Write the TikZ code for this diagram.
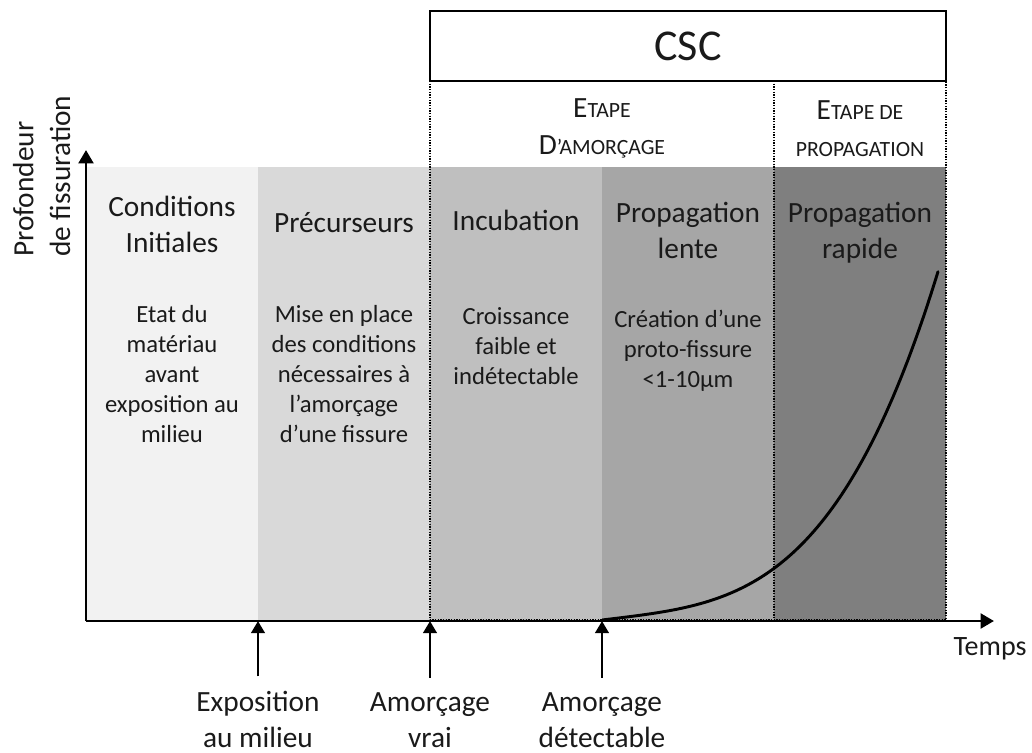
\documentclass[tikz,border=0pt]{standalone}
\usepackage{fontspec}
\setmainfont{Carlito}
\usetikzlibrary{arrows.meta}
\definecolor{bandA}{HTML}{F2F2F2}
\definecolor{bandB}{HTML}{D9D9D9}
\definecolor{bandC}{HTML}{BFBFBF}
\definecolor{bandD}{HTML}{A6A6A6}
\definecolor{bandE}{HTML}{7F7F7F}
\definecolor{ink}{HTML}{1A1A1A}
\newcommand{\scsm}[1]{{\fontsize{16.3pt}{20pt}\selectfont #1}}
\begin{document}
\begin{tikzpicture}[x=0.75pt,y=-0.75pt,
  head/.style={font=\fontsize{22pt}{27pt}\selectfont, align=center, anchor=base, text=ink},
  desc/.style={font=\fontsize{18.5pt}{22.5pt}\selectfont, align=center, anchor=base, text=ink},
  stage/.style={font=\fontsize{22pt}{27.75pt}\selectfont, align=center, anchor=base, text=ink},
  lab/.style={font=\fontsize{22pt}{26.5pt}\selectfont, align=center, anchor=base, inner sep=0pt, text=ink},
  dotline/.style={line width=1pt, dash pattern=on 1pt off 1pt},
  axis/.style={line width=2.2pt, -{Triangle[length=10pt,width=11pt]}},
  tick/.style={line width=2pt, -{Triangle[length=9pt,width=10pt]}, shorten <=11pt},
  curve/.style={line width=2.2pt, line cap=round, line join=round}
]
\useasboundingbox (0,0) rectangle (1032,753);

% bands
\fill[bandA] (86,167) rectangle (258,621);
\fill[bandB] (258,167) rectangle (430,621);
\fill[bandC] (430,167) rectangle (602,621);
\fill[bandD] (602,167) rectangle (774,621);
\fill[bandE] (774,167) rectangle (946,621);

% CSC box and dotted frame
\node (csc) [draw, line width=1.5pt, minimum width=387pt, minimum height=52.5pt, inner sep=0pt,
  font=\fontsize{33pt}{40pt}\selectfont, text=ink] at (688,46) {CSC};
\draw[dotline] (430,81) rectangle (946,620);
\draw[dotline] (774,81) -- (774,620);

% stage labels (anchor = baseline of last line)
\node[stage] (amorc) at (602,154) {E\scsm{TAPE}\\D\scsm{’AMORÇAGE}};
\node[stage] (propa) at (860,156) {E\scsm{TAPE DE}\\\scsm{PROPAGATION}};

% headings
\node[head] (h1) at (172,252) {Conditions\\Initiales};
\node[head] (h2) at (344,232) {Précurseurs};
\node[head] (h3) at (516,230) {Incubation};
\node[head] (h4) at (688,258) {Propagation\\lente};
\node[head] (h5) at (860,258) {Propagation\\rapide};

% descriptions
\node[desc] (d1) at (172,442) {Etat du\\matériau\\avant\\exposition au\\milieu};
\node[desc] (d2) at (344,442) {Mise en place\\des conditions\\nécessaires à\\l’amorçage\\d’une fissure};
\node[desc] (d3) at (516,384) {Croissance\\faible et\\indétectable};
\node[desc] (d4) at (688,387) {Création d’une\\proto-fissure\\<1-10µm};

% crack growth curve
\draw[curve] plot[domain=0.5:336, samples=90, variable=\t] ({602+\t},{620-0.12*\t-31*(\t/172)^3.43});

% axes
\coordinate (O) at (86,621);
\coordinate (xend) at (994,621);
\coordinate (yend) at (86,150);
\draw[axis] (O) -- (xend);
\draw[axis] (O) -- (yend);

\node[lab, font=\fontsize{21pt}{26pt}\selectfont] (temps) at (990,655) {Temps};
\node[lab, rotate=90, anchor=base west, align=left, font=\fontsize{22pt}{27.5pt}\selectfont] (ylab) at (70,257) {Profondeur\\de fissuration};

% event markers
\coordinate (e1) at (258,621);
\coordinate (e2) at (430,621);
\coordinate (e3) at (602,621);
\node[lab] (l1) at (258,747) {Exposition\\au milieu};
\node[lab] (l2) at (430,747) {Amorçage\\vrai};
\node[lab] (l3) at (602,747) {Amorçage\\détectable};
\draw[tick] (l1.north) -- (e1);
\draw[tick] (l2.north) -- (e2);
\draw[tick] (l3.north) -- (e3);
\end{tikzpicture}
\end{document}
